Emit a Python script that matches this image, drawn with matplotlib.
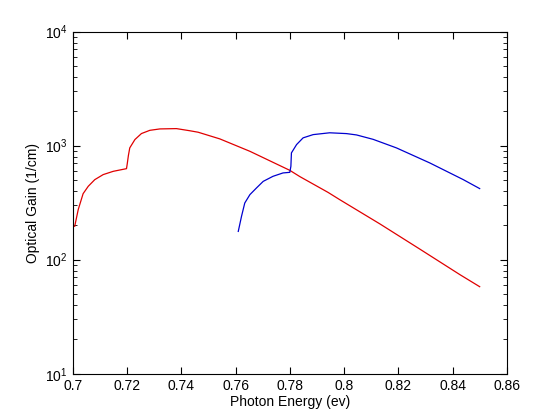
import numpy as np
import matplotlib
matplotlib.use("Agg")
import matplotlib.pyplot as plt
from matplotlib.ticker import LogLocator, LogFormatterSciNotation

plt.rcParams['font.family'] = ['Liberation Sans', 'DejaVu Sans']
plt.rcParams['mathtext.fontset'] = 'custom'
plt.rcParams['mathtext.rm'] = 'Liberation Sans'
plt.rcParams['mathtext.default'] = 'regular'

# red curve
red_x = [0.7007, 0.702, 0.7038, 0.7057, 0.7081, 0.7112, 0.7149, 0.7198, 0.7201, 0.7205,
         0.7210, 0.7229, 0.7253, 0.7284, 0.7321, 0.7382, 0.7431, 0.7462, 0.7542, 0.7653,
         0.7800, 0.7837, 0.7941, 0.7984, 0.8132, 0.8279, 0.8427, 0.8500]
red_y = [196, 275, 379, 440, 503, 557, 595, 628, 700, 820,
         955, 1130, 1275, 1361, 1400, 1409, 1350, 1310, 1145, 891,
         607, 535, 389, 336, 206, 124, 74, 58]

# blue curve
blue_x = [0.7610, 0.7622, 0.7634, 0.7653, 0.7677, 0.7702, 0.7738, 0.7775, 0.7800, 0.7804,
          0.7806, 0.7825, 0.7849, 0.7886, 0.7947, 0.8009, 0.8046, 0.8107, 0.8193, 0.8316,
          0.8439, 0.8500]
blue_y = [177, 240, 314, 372, 425, 486, 538, 576, 583, 658,
          863, 1021, 1169, 1248, 1295, 1274, 1240, 1135, 955, 705,
          504, 420]

fig = plt.figure(figsize=(5.6, 4.2), dpi=100)
ax = fig.add_axes([0.13, 0.11, 0.775, 0.815])

ax.plot(red_x, red_y, color='#e00000', lw=0.9)
ax.plot(blue_x, blue_y, color='#0000d0', lw=0.9)

ax.set_yscale('log')
ax.set_xlim(0.7, 0.86)
ax.set_ylim(10, 1e4)
ax.set_xticks([0.7, 0.72, 0.74, 0.76, 0.78, 0.8, 0.82, 0.84, 0.86])
ax.set_xticklabels(['0.7', '0.72', '0.74', '0.76', '0.78', '0.8', '0.82', '0.84', '0.86'])
ax.yaxis.set_major_locator(LogLocator(base=10, numticks=10))
ax.yaxis.set_minor_locator(LogLocator(base=10, subs=np.arange(2, 10), numticks=10))
ax.yaxis.set_major_formatter(LogFormatterSciNotation())

ax.tick_params(which='both', direction='in', top=True, right=True, labelsize=10)
ax.tick_params(which='major', length=5)
ax.tick_params(which='minor', length=3)
for s in ax.spines.values():
    s.set_linewidth(0.8)

ax.set_xlabel('Photon Energy (ev)', fontsize=10, labelpad=2)
ax.set_ylabel('Optical Gain (1/cm)', fontsize=10, labelpad=4)

fig.savefig('out.png', dpi=100)
